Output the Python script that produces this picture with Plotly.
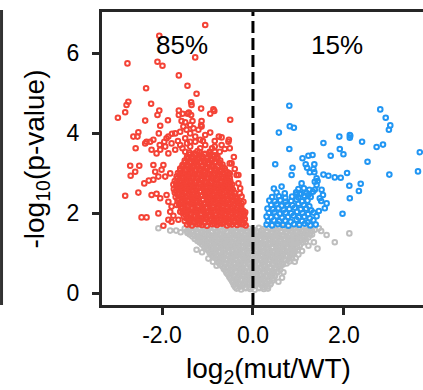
import plotly.graph_objects as go

# ---------------- data ----------------
gray_points = [
    (-1.50,1.61),(-1.39,1.59),(-1.29,1.63),(-1.17,1.60),(-1.06,1.58),(-0.96,1.62),(-0.85,1.60),(-0.74,1.63),(-0.63,1.59),(-0.52,1.61),(-0.41,1.62),(-0.31,1.60),(-0.20,1.58),(-0.09,1.61),(0.03,1.57),(0.13,1.63),(0.24,1.60),(0.35,1.62),(0.46,1.59),(0.57,1.61),(0.67,1.63),(0.79,1.58),(0.90,1.60),(1.01,1.62),(1.12,1.57),(1.24,1.60),(1.36,1.58),
    (-1.45,1.55),(-1.34,1.56),(-1.23,1.54),(-1.12,1.55),(-1.01,1.57),(-0.90,1.54),(-0.79,1.55),(-0.68,1.56),(-0.57,1.54),(-0.46,1.56),(-0.35,1.55),(-0.25,1.54),(-0.14,1.56),(-0.03,1.55),(0.08,1.54),(0.19,1.56),(0.30,1.55),(0.41,1.54),(0.52,1.56),(0.62,1.55),(0.73,1.54),(0.85,1.56),(0.96,1.55),(1.07,1.54),(1.18,1.56),(1.30,1.55),
    (-1.44,1.50),(-1.34,1.52),(-1.23,1.49),(-1.12,1.51),(-1.01,1.48),(-0.90,1.53),(-0.80,1.50),(-0.69,1.47),(-0.58,1.52),(-0.47,1.49),(-0.36,1.51),(-0.25,1.50),(-0.14,1.53),(-0.04,1.48),(0.08,1.51),(0.19,1.49),(0.30,1.52),(0.41,1.50),(0.51,1.47),(0.62,1.51),(0.73,1.49),(0.85,1.53),(0.96,1.50),(1.07,1.48),(1.18,1.52),(1.30,1.46),
    (-1.39,1.46),(-1.28,1.45),(-1.17,1.44),(-1.06,1.46),(-0.95,1.45),(-0.85,1.44),(-0.74,1.46),(-0.63,1.45),(-0.52,1.44),(-0.41,1.46),(-0.30,1.45),(-0.19,1.44),(-0.08,1.46),(0.03,1.45),(0.14,1.44),(0.25,1.46),(0.36,1.45),(0.46,1.44),(0.57,1.46),(0.68,1.45),(0.79,1.44),(0.90,1.46),(1.02,1.45),(1.13,1.44),(1.25,1.46),
    (-1.33,1.41),(-1.22,1.39),(-1.11,1.42),(-1.00,1.38),(-0.90,1.40),(-0.79,1.43),(-0.68,1.39),(-0.57,1.41),(-0.46,1.37),(-0.35,1.42),(-0.24,1.40),(-0.13,1.38),(-0.02,1.41),(0.10,1.39),(0.21,1.43),(0.32,1.40),(0.43,1.38),(0.54,1.41),(0.65,1.42),(0.76,1.39),(0.87,1.40),(0.98,1.37),(1.10,1.41),(1.22,1.39),
    (-1.28,1.35),(-1.17,1.36),(-1.06,1.34),(-0.95,1.35),(-0.85,1.37),(-0.74,1.34),(-0.63,1.35),(-0.52,1.36),(-0.41,1.34),(-0.30,1.36),(-0.19,1.35),(-0.08,1.34),(0.04,1.36),(0.15,1.35),(0.26,1.34),(0.37,1.36),(0.48,1.35),(0.59,1.34),(0.70,1.36),(0.81,1.35),(0.92,1.34),(1.04,1.36),(1.16,1.35),
    (-1.22,1.30),(-1.12,1.32),(-1.01,1.28),(-0.90,1.31),(-0.79,1.29),(-0.68,1.33),(-0.58,1.30),(-0.47,1.27),(-0.36,1.31),(-0.25,1.29),(-0.14,1.32),(-0.04,1.30),(0.07,1.28),(0.16,1.31),(0.27,1.29),(0.38,1.33),(0.49,1.30),(0.60,1.28),(0.71,1.31),(0.82,1.29),(0.93,1.27),(1.04,1.30),(1.16,1.28),
    (-1.17,1.26),(-1.07,1.25),(-0.96,1.24),(-0.85,1.26),(-0.74,1.25),(-0.63,1.24),(-0.53,1.26),(-0.42,1.25),(-0.31,1.24),(-0.20,1.26),(-0.09,1.25),(0.01,1.24),(0.12,1.26),(0.22,1.25),(0.33,1.24),(0.44,1.26),(0.55,1.25),(0.66,1.24),(0.77,1.26),(0.88,1.25),(0.98,1.24),(1.10,1.26),
    (-1.12,1.21),(-1.02,1.19),(-0.91,1.22),(-0.80,1.18),(-0.69,1.20),(-0.59,1.23),(-0.48,1.19),(-0.37,1.21),(-0.26,1.17),(-0.15,1.20),(-0.05,1.22),(0.06,1.19),(0.17,1.21),(0.27,1.18),(0.38,1.22),(0.49,1.20),(0.60,1.17),(0.71,1.21),(0.82,1.19),(0.92,1.22),(1.03,1.18),
    (-1.07,1.15),(-0.97,1.16),(-0.86,1.14),(-0.75,1.15),(-0.64,1.17),(-0.54,1.14),(-0.43,1.15),(-0.32,1.16),(-0.21,1.14),(-0.10,1.16),(0.01,1.15),(0.12,1.14),(0.22,1.16),(0.33,1.15),(0.44,1.14),(0.55,1.16),(0.66,1.15),(0.77,1.14),(0.87,1.16),(0.98,1.15),
    (-1.03,1.10),(-0.92,1.12),(-0.81,1.08),(-0.70,1.11),(-0.60,1.09),(-0.49,1.13),(-0.38,1.10),(-0.27,1.07),(-0.16,1.11),(-0.07,1.12),(0.09,1.08),(0.21,1.11),(0.32,1.09),(0.43,1.13),(0.54,1.10),(0.65,1.08),(0.76,1.11),(0.87,1.09),(0.98,1.07),
    (-0.98,1.06),(-0.87,1.05),(-0.76,1.04),(-0.65,1.06),(-0.55,1.05),(-0.44,1.04),(-0.33,1.06),(-0.22,1.05),(-0.12,1.04),(0.15,1.06),(0.26,1.05),(0.37,1.04),(0.48,1.06),(0.59,1.05),(0.70,1.04),(0.81,1.06),(0.92,1.05),
    (-0.95,1.00),(-0.85,0.98),(-0.74,1.02),(-0.63,0.99),(-0.52,1.01),(-0.42,0.97),(-0.31,1.00),(-0.20,1.02),(-0.10,0.98),(0.12,0.99),(0.22,1.01),(0.33,0.98),(0.44,1.02),(0.55,1.00),(0.66,0.97),(0.77,1.01),(0.88,0.99),
    (-0.90,0.95),(-0.80,0.96),(-0.69,0.94),(-0.58,0.95),(-0.47,0.97),(-0.37,0.94),(-0.26,0.95),(-0.15,0.96),(-0.05,0.94),(0.06,0.93),(0.17,0.95),(0.28,0.96),(0.39,0.94),(0.50,0.95),(0.61,0.97),(0.72,0.94),(0.83,0.95),
    (-0.86,0.90),(-0.76,0.92),(-0.65,0.88),(-0.54,0.91),(-0.44,0.89),(-0.33,0.93),(-0.22,0.90),(-0.12,0.87),(-0.01,0.91),(0.10,0.89),(0.20,0.92),(0.31,0.90),(0.42,0.88),(0.53,0.91),(0.64,0.89),(0.75,0.92),(0.86,0.88),
    (-0.81,0.86),(-0.71,0.85),(-0.60,0.84),(-0.49,0.86),(-0.39,0.85),(-0.28,0.84),(-0.17,0.86),(-0.07,0.85),(0.04,0.84),(0.15,0.86),(0.25,0.85),(0.36,0.84),(0.47,0.86),(0.58,0.85),(0.69,0.84),(0.80,0.86),
    (-0.78,0.80),(-0.68,0.78),(-0.57,0.82),(-0.47,0.79),(-0.36,0.81),(-0.25,0.77),(-0.15,0.80),(-0.04,0.83),(0.06,0.79),(0.16,0.81),(0.27,0.78),(0.38,0.82),(0.48,0.80),(0.59,0.77),(0.70,0.81),(0.80,0.79),
    (-0.75,0.75),(-0.63,0.76),(-0.52,0.74),(-0.42,0.75),(-0.31,0.77),(-0.20,0.74),(-0.10,0.75),(0.01,0.76),(0.11,0.74),(0.21,0.76),(0.32,0.75),(0.43,0.74),(0.53,0.76),(0.64,0.75),(0.74,0.74),
    (-0.72,0.70),(-0.61,0.72),(-0.50,0.68),(-0.40,0.71),(-0.29,0.69),(-0.19,0.73),(-0.08,0.70),(0.02,0.67),(0.12,0.71),(0.23,0.69),(0.34,0.72),(0.44,0.70),(0.55,0.68),(0.66,0.71),
    (-0.67,0.66),(-0.56,0.65),(-0.45,0.64),(-0.35,0.66),(-0.24,0.65),(-0.14,0.64),(-0.03,0.66),(0.07,0.65),(0.17,0.64),(0.28,0.66),(0.39,0.65),(0.49,0.64),(0.60,0.66),
    (-0.64,0.60),(-0.54,0.62),(-0.44,0.58),(-0.33,0.61),(-0.23,0.59),(-0.13,0.63),(-0.03,0.60),(0.08,0.57),(0.18,0.61),(0.28,0.59),(0.39,0.62),(0.49,0.60),(0.60,0.58),
    (-0.60,0.55),(-0.49,0.56),(-0.39,0.54),(-0.28,0.55),(-0.18,0.57),(-0.08,0.54),(0.02,0.55),(0.13,0.56),(0.23,0.54),(0.33,0.56),(0.44,0.55),(0.54,0.54),
    (-0.58,0.50),(-0.48,0.48),(-0.38,0.52),(-0.28,0.49),(-0.18,0.51),(-0.08,0.47),(0.03,0.50),(0.13,0.53),(0.23,0.49),(0.33,0.51),(0.44,0.48),(0.54,0.52),
    (-0.55,0.46),(-0.43,0.45),(-0.33,0.44),(-0.23,0.46),(-0.13,0.45),(-0.03,0.44),(0.08,0.46),(0.18,0.45),(0.28,0.44),(0.38,0.46),(0.49,0.45),
    (-0.52,0.40),(-0.42,0.42),(-0.32,0.38),(-0.22,0.41),(-0.12,0.39),(-0.02,0.43),(0.08,0.40),(0.18,0.37),(0.28,0.41),(0.38,0.39),(0.48,0.42),
    (-0.49,0.35),(-0.37,0.36),(-0.27,0.34),(-0.17,0.35),(-0.07,0.37),(0.03,0.34),(0.13,0.35),(0.23,0.36),(0.33,0.34),(0.43,0.36),
    (-0.46,0.30),(-0.36,0.28),(-0.26,0.32),(-0.16,0.29),(-0.06,0.31),(0.04,0.27),(0.14,0.30),(0.24,0.33),(0.34,0.29),(0.44,0.31),
    (-0.44,0.26),(-0.31,0.25),(-0.21,0.24),(-0.11,0.26),(-0.01,0.25),(0.09,0.24),(0.19,0.26),(0.29,0.25),(0.39,0.24),
    (-0.42,0.20),(-0.32,0.22),(-0.22,0.18),(-0.12,0.21),(-0.02,0.19),(0.08,0.23),(0.18,0.20),(0.28,0.18),(0.38,0.21),
    (-0.39,0.15),(-0.27,0.16),(-0.17,0.14),(-0.07,0.15),(0.03,0.17),(0.13,0.14),(0.23,0.15),(0.33,0.16),
    (-0.36,0.11),(-0.26,0.09),(-0.16,0.12),(-0.06,0.10),(0.04,0.08),(0.14,0.12),(0.24,0.10),(0.33,0.11),
    (-2.08,1.62),(-1.82,1.56),(-1.69,1.56),(-1.59,1.52),(-1.24,1.08),(-1.12,1.02),(-0.98,0.86),(-0.88,0.78),(-0.80,0.68),
    (1.80,1.27),(1.42,1.11),(1.34,1.27),(2.12,1.49),(1.08,1.05),(0.94,0.87),(1.50,1.55),(1.62,1.45),(1.22,1.18),
    (0.92,0.78),(0.67,0.52),(0.64,0.38),(0.56,0.28),(1.45,1.62),(1.00,0.96),
]

red_points = [
    # sparse upper part
    (-1.05,6.70),(-2.06,6.43),(-2.76,5.74),(-2.10,5.78),(-1.99,5.68),(-1.27,5.89),(-1.63,5.44),(-2.35,5.12),(-1.44,5.18),(-1.24,4.98),
    (-2.74,4.78),(-2.78,4.70),(-2.81,4.52),(-2.97,4.38),(-2.24,4.73),(-1.36,4.77),(-1.35,4.70),(-1.14,4.61),(-0.87,4.59),(-0.85,4.55),
    (-0.94,4.48),(-0.50,4.33),(-2.06,4.56),(-2.10,4.45),(-2.37,4.31),(-1.87,4.32),(-2.04,4.18),(-1.63,4.56),(-1.63,4.45),(-1.55,4.48),
    (-1.44,4.48),(-1.36,4.45),(-1.41,4.51),(-2.52,4.02),(-2.54,3.91),(-2.63,3.91),(-2.07,3.99),(-0.94,4.01),(-0.75,3.91),(-0.53,3.83),(-1.78,3.98),
    (-1.57,4.30),(-1.49,4.27),(-1.33,4.30),(-1.13,4.30),(-1.53,4.16),(-1.38,4.20),(-1.46,4.08),(-1.31,4.12),(-1.20,4.08),(-1.13,4.16),
    (-1.60,4.03),(-1.38,3.99),(-1.27,3.91),(-1.49,3.87),(-1.16,3.83),(-1.71,3.99),(-1.86,3.91),(-1.05,3.95),(-1.38,3.78),(-2.34,3.78),
    (-2.19,3.83),(-1.90,3.87),(-0.69,3.89),(-0.84,3.80),(-1.14,4.20),
    # left sparse part
    (-2.58,3.62),(-2.70,3.18),(-2.50,3.18),(-2.59,3.03),(-2.69,2.93),(-2.81,2.43),(-2.52,2.51),(-2.39,2.74),(-2.29,2.81),(-2.19,2.83),
    (-2.23,2.45),(-2.12,2.48),(-2.45,1.89),(-2.34,1.89),(-2.08,1.99),(-1.97,1.68),(-2.19,3.20),(-1.97,3.20),(-2.15,3.03),(-2.01,3.08),
    (-2.08,2.91),(-1.93,2.91),(-1.82,2.99),(-2.04,2.37),(-1.90,2.45),(-1.86,2.28),(-1.79,2.16),(-1.82,2.03),(-1.86,1.83),(-1.75,1.93),
    (-1.79,1.78),(-1.64,1.83),(-1.60,2.03),(-1.68,2.20),
    # band near the top of the cluster
    (-2.37,3.74),(-2.26,3.78),(-2.23,3.58),(-2.12,3.49),(-2.04,3.58),(-1.93,3.66),(-1.86,3.49),(-1.79,3.74),(-1.71,3.58),(-1.60,3.70),
    (-1.49,3.53),(-1.38,3.66),(-1.27,3.78),(-1.16,3.62),(-1.05,3.70),(-0.95,3.53),(-0.84,3.66),(-0.69,3.70),(-0.54,3.78),(-0.51,3.62),
    (-0.73,3.53),(-1.55,3.62),(-1.22,3.55),(-1.10,3.80),(-0.90,3.62),(-0.62,3.60),(-1.65,3.80),(-1.95,3.78),(-2.05,3.70),(-1.45,3.74),
    # right edge of the cluster
    (-0.47,3.24),(-0.36,2.95),(-0.32,2.74),(-0.29,2.49),(-0.25,2.24),(-0.21,2.03),(-0.51,3.24),(-0.51,2.99),(-0.32,2.95),(-0.25,2.41),
    (-0.21,2.28),(-0.25,1.99),(-0.40,3.10),(-0.28,2.62),(-0.18,1.85),(-0.42,3.40),
    # dense core
    (-1.45,1.71),(-1.34,1.69),(-1.23,1.72),(-1.12,1.70),(-1.01,1.68),(-0.90,1.72),(-0.79,1.70),(-0.68,1.73),(-0.57,1.69),(-0.46,1.71),(-0.35,1.70),(-0.24,1.72),(-0.16,1.69),
    (-1.40,1.75),(-1.29,1.76),(-1.18,1.74),(-1.07,1.75),(-0.96,1.77),(-0.85,1.74),(-0.74,1.75),(-0.63,1.76),(-0.52,1.74),(-0.41,1.76),(-0.30,1.75),(-0.20,1.74),
    (-1.50,1.80),(-1.39,1.82),(-1.28,1.79),(-1.17,1.81),(-1.06,1.78),(-0.95,1.83),(-0.84,1.80),(-0.73,1.77),(-0.62,1.82),(-0.51,1.79),(-0.40,1.81),(-0.29,1.80),(-0.19,1.83),
    (-1.46,1.86),(-1.35,1.85),(-1.24,1.84),(-1.13,1.86),(-1.02,1.85),(-0.91,1.84),(-0.80,1.86),(-0.69,1.85),(-0.58,1.84),(-0.47,1.86),(-0.36,1.85),(-0.25,1.84),
    (-1.52,1.91),(-1.41,1.89),(-1.30,1.92),(-1.19,1.88),(-1.08,1.90),(-0.97,1.93),(-0.86,1.89),(-0.75,1.91),(-0.64,1.87),(-0.53,1.92),(-0.42,1.90),(-0.31,1.88),(-0.21,1.91),
    (-1.48,1.95),(-1.37,1.96),(-1.26,1.94),(-1.15,1.95),(-1.04,1.97),(-0.93,1.94),(-0.82,1.95),(-0.71,1.96),(-0.60,1.94),(-0.49,1.96),(-0.38,1.95),(-0.27,1.94),(-0.19,1.96),
    (-1.55,2.00),(-1.46,2.02),(-1.35,1.98),(-1.24,2.01),(-1.13,1.99),(-1.02,2.03),(-0.91,2.00),(-0.80,1.97),(-0.69,2.01),(-0.58,1.99),(-0.47,2.02),(-0.36,2.00),(-0.25,1.98),(-0.17,2.02),
    (-1.52,2.06),(-1.41,2.05),(-1.30,2.04),(-1.19,2.06),(-1.08,2.05),(-0.97,2.04),(-0.86,2.06),(-0.75,2.05),(-0.64,2.04),(-0.53,2.06),(-0.42,2.05),(-0.31,2.04),(-0.22,2.06),
    (-1.58,2.11),(-1.47,2.09),(-1.36,2.12),(-1.25,2.08),(-1.14,2.10),(-1.03,2.13),(-0.92,2.09),(-0.81,2.11),(-0.70,2.07),(-0.59,2.12),(-0.48,2.10),(-0.37,2.08),(-0.27,2.11),
    (-1.55,2.15),(-1.44,2.16),(-1.33,2.14),(-1.22,2.15),(-1.11,2.17),(-1.00,2.14),(-0.89,2.15),(-0.78,2.16),(-0.67,2.14),(-0.56,2.16),(-0.45,2.15),(-0.34,2.14),(-0.26,2.16),
    (-1.62,2.20),(-1.52,2.22),(-1.41,2.18),(-1.30,2.21),(-1.19,2.19),(-1.08,2.23),(-0.97,2.20),(-0.86,2.17),(-0.75,2.21),(-0.64,2.19),(-0.53,2.22),(-0.42,2.20),(-0.31,2.18),
    (-1.60,2.26),(-1.49,2.25),(-1.38,2.24),(-1.27,2.26),(-1.16,2.25),(-1.05,2.24),(-0.94,2.26),(-0.83,2.25),(-0.72,2.24),(-0.61,2.26),(-0.50,2.25),(-0.39,2.24),(-0.31,2.26),
    (-1.66,2.31),(-1.55,2.29),(-1.44,2.32),(-1.33,2.28),(-1.22,2.30),(-1.11,2.33),(-1.00,2.29),(-0.89,2.31),(-0.78,2.27),(-0.67,2.32),(-0.56,2.30),(-0.45,2.28),(-0.35,2.31),
    (-1.64,2.35),(-1.53,2.36),(-1.42,2.34),(-1.31,2.35),(-1.20,2.37),(-1.09,2.34),(-0.98,2.35),(-0.87,2.36),(-0.76,2.34),(-0.65,2.36),(-0.54,2.35),(-0.43,2.34),(-0.35,2.36),
    (-1.70,2.40),(-1.58,2.42),(-1.47,2.38),(-1.36,2.41),(-1.25,2.39),(-1.14,2.43),(-1.03,2.40),(-0.92,2.37),(-0.81,2.41),(-0.70,2.39),(-0.59,2.42),(-0.48,2.40),(-0.38,2.38),
    (-1.66,2.46),(-1.55,2.45),(-1.44,2.44),(-1.33,2.46),(-1.22,2.45),(-1.11,2.44),(-1.00,2.46),(-0.89,2.45),(-0.78,2.44),(-0.67,2.46),(-0.56,2.45),(-0.45,2.44),
    (-1.72,2.51),(-1.61,2.49),(-1.50,2.52),(-1.39,2.48),(-1.28,2.50),(-1.17,2.53),(-1.06,2.49),(-0.95,2.51),(-0.84,2.47),(-0.73,2.52),(-0.62,2.50),(-0.51,2.48),(-0.41,2.51),
    (-1.69,2.55),(-1.58,2.56),(-1.47,2.54),(-1.36,2.55),(-1.25,2.57),(-1.14,2.54),(-1.03,2.55),(-0.92,2.56),(-0.81,2.54),(-0.70,2.56),(-0.59,2.55),(-0.48,2.54),
    (-1.74,2.60),(-1.64,2.62),(-1.53,2.58),(-1.42,2.61),(-1.31,2.59),(-1.20,2.63),(-1.09,2.60),(-0.98,2.57),(-0.87,2.61),(-0.76,2.59),(-0.65,2.62),(-0.54,2.60),(-0.44,2.58),
    (-1.69,2.66),(-1.58,2.65),(-1.47,2.64),(-1.36,2.66),(-1.25,2.65),(-1.14,2.64),(-1.03,2.66),(-0.92,2.65),(-0.81,2.64),(-0.70,2.66),(-0.59,2.65),(-0.49,2.64),
    (-1.75,2.71),(-1.63,2.69),(-1.52,2.72),(-1.41,2.68),(-1.30,2.70),(-1.19,2.73),(-1.08,2.69),(-0.97,2.71),(-0.86,2.67),(-0.75,2.72),(-0.64,2.70),(-0.53,2.68),(-0.46,2.71),
    (-1.69,2.75),(-1.58,2.76),(-1.47,2.74),(-1.36,2.75),(-1.25,2.77),(-1.14,2.74),(-1.03,2.75),(-0.92,2.76),(-0.81,2.74),(-0.70,2.76),(-0.59,2.75),(-0.50,2.74),
    (-1.72,2.80),(-1.60,2.82),(-1.49,2.78),(-1.38,2.81),(-1.27,2.79),(-1.16,2.83),(-1.05,2.80),(-0.94,2.77),(-0.83,2.81),(-0.72,2.79),(-0.61,2.82),(-0.50,2.80),
    (-1.66,2.86),(-1.55,2.85),(-1.44,2.84),(-1.33,2.86),(-1.22,2.85),(-1.11,2.84),(-1.00,2.86),(-0.89,2.85),(-0.78,2.84),(-0.67,2.86),(-0.56,2.85),
    (-1.68,2.91),(-1.57,2.89),(-1.46,2.92),(-1.35,2.88),(-1.24,2.90),(-1.13,2.93),(-1.02,2.89),(-0.91,2.91),(-0.80,2.87),(-0.69,2.92),(-0.58,2.90),(-0.51,2.88),
    (-1.62,2.95),(-1.51,2.96),(-1.40,2.94),(-1.29,2.95),(-1.18,2.97),(-1.07,2.94),(-0.96,2.95),(-0.85,2.96),(-0.74,2.94),(-0.63,2.96),(-0.54,2.95),
    (-1.65,3.00),(-1.54,3.02),(-1.43,2.98),(-1.32,3.01),(-1.21,2.99),(-1.10,3.03),(-0.99,3.00),(-0.88,2.97),(-0.77,3.01),(-0.66,2.99),(-0.56,3.02),
    (-1.60,3.06),(-1.49,3.05),(-1.38,3.04),(-1.27,3.06),(-1.16,3.05),(-1.05,3.04),(-0.94,3.06),(-0.83,3.05),(-0.72,3.04),(-0.61,3.06),
    (-1.60,3.11),(-1.49,3.09),(-1.38,3.12),(-1.27,3.08),(-1.16,3.10),(-1.05,3.13),(-0.94,3.09),(-0.83,3.11),(-0.72,3.07),(-0.62,3.12),
    (-1.55,3.15),(-1.44,3.16),(-1.33,3.14),(-1.22,3.15),(-1.11,3.17),(-1.00,3.14),(-0.89,3.15),(-0.78,3.16),(-0.67,3.14),
    (-1.55,3.20),(-1.44,3.22),(-1.33,3.18),(-1.22,3.21),(-1.11,3.19),(-1.00,3.23),(-0.89,3.20),(-0.78,3.17),(-0.67,3.21),
    (-1.50,3.26),(-1.39,3.25),(-1.28,3.24),(-1.17,3.26),(-1.06,3.25),(-0.95,3.24),(-0.84,3.26),(-0.73,3.25),
    (-1.50,3.31),(-1.38,3.29),(-1.27,3.32),(-1.16,3.28),(-1.05,3.30),(-0.94,3.33),(-0.83,3.29),(-0.72,3.31),
    (-1.44,3.35),(-1.33,3.36),(-1.22,3.34),(-1.11,3.35),(-1.00,3.37),(-0.89,3.34),(-0.78,3.35),
    (-1.45,3.40),(-1.33,3.42),(-1.22,3.38),(-1.11,3.41),(-1.00,3.39),(-0.89,3.43),(-0.78,3.40),
    (-1.39,3.46),(-1.28,3.45),(-1.17,3.44),(-1.06,3.46),(-0.95,3.45),(-0.84,3.44),
    (-1.40,3.51),(-1.28,3.49),(-1.17,3.52),(-1.06,3.48),(-0.95,3.50),(-0.84,3.53),
]

blue_points = [
    (0.30,1.71),(0.42,1.69),(0.55,1.72),(0.66,1.70),(0.78,1.68),(0.90,1.72),(1.02,1.70),(1.14,1.73),(1.26,1.69),(1.38,1.71),
    (0.33,1.80),(0.46,1.82),(0.58,1.79),(0.71,1.81),(0.83,1.78),(0.96,1.83),(1.08,1.80),(1.20,1.77),(1.33,1.82),
    (0.30,1.91),(0.40,1.89),(0.52,1.92),(0.64,1.88),(0.77,1.90),(0.89,1.93),(1.01,1.89),(1.13,1.91),(1.25,1.87),(1.40,1.92),
    (0.35,2.00),(0.47,2.02),(0.59,1.98),(0.72,2.01),(0.84,1.99),(0.97,2.03),(1.09,2.00),(1.21,1.97),(1.33,2.01),
    (0.32,2.11),(0.44,2.09),(0.56,2.12),(0.68,2.08),(0.80,2.10),(0.92,2.13),(1.05,2.09),(1.17,2.11),(1.28,2.07),(1.45,2.05),(1.58,2.12),
    (0.40,2.20),(0.52,2.22),(0.63,2.18),(0.75,2.21),(0.87,2.19),(1.00,2.23),(1.12,2.20),(1.24,2.17),
    (0.36,2.31),(0.48,2.29),(0.60,2.32),(0.72,2.28),(0.84,2.30),(0.96,2.33),(1.08,2.29),(1.20,2.31),(1.50,2.30),
    (0.42,2.40),(0.57,2.42),(0.71,2.38),(0.86,2.41),(1.00,2.39),(1.13,2.43),(1.27,2.40),
    (0.52,2.51),(0.70,2.49),(0.95,2.52),(1.06,2.48),(1.18,2.50),(1.32,2.53),
    (0.46,2.61),(0.63,2.66),(1.00,2.60),(1.12,2.62),(1.24,2.58),
    (1.42,2.80),(1.40,2.70),(1.36,2.58),(1.51,2.58),(1.54,2.45),(1.62,2.24),(1.47,2.37),(0.96,2.47),(1.03,2.47),(1.22,2.45),
    (1.07,2.74),(1.36,2.78),(1.40,2.87),
    (0.80,4.68),(0.57,4.01),(0.81,4.17),(0.90,4.13),(0.80,3.60),(0.49,3.22),(1.09,3.37),(1.22,3.43),(1.31,3.45),(1.16,3.22),
    (1.19,3.13),(1.35,3.22),(1.25,3.02),(1.35,3.02),(1.33,3.10),(0.87,3.13),(0.85,2.95),(1.55,3.75),(1.71,3.43),(1.90,3.91),
    (2.13,3.95),(2.13,3.88),(2.14,3.93),(1.91,3.60),(1.99,3.47),(2.40,3.78),(2.52,3.28),(2.72,3.65),(2.86,3.71),(2.80,4.59),
    (2.92,4.38),(3.02,4.19),(2.99,4.08),(3.67,3.52),(3.63,3.04),(3.00,2.96),(1.55,2.96),(1.66,2.93),(1.80,2.89),(1.93,2.88),
    (2.07,3.00),(2.12,2.68),(2.37,2.73),(2.33,2.55),(2.13,2.37),(1.97,1.98),
]

x_tick_vals = [-2, 0, 2]
x_tick_text = ["-2.0", "0.0", "2.0"]
y_tick_vals = [0, 2, 4, 6]
y_tick_text = ["0", "2", "4", "6"]
pct_labels = ["85%", "15%"]

# ---------------- figure ----------------
FONT = "Arial, Liberation Sans, Helvetica, sans-serif"
AX = "#262626"

fig = go.Figure()
for pts, col in [(gray_points, "#BEBEBE"), (red_points, "#F44336"), (blue_points, "#2196F3")]:
    fig.add_trace(go.Scatter(
        x=[p[0] for p in pts], y=[p[1] for p in pts], mode="markers",
        marker=dict(symbol="circle-open", size=4.6, color=col, line=dict(width=2.0, color=col)),
        showlegend=False, hoverinfo="skip"))

fig.add_shape(type="line", xref="x", yref="paper", x0=0, x1=0, y0=0, y1=1,
              line=dict(color="black", width=3, dash="12px,5px"))
fig.add_shape(type="line", xref="paper", yref="paper", x0=-0.313, x1=-0.313, y0=0, y1=1.007,
              line=dict(color="#333333", width=3))

fig.add_annotation(x=-1.55, y=6.2, xref="x", yref="y", text=pct_labels[0], showarrow=False,
                   font=dict(size=26, color="black", family=FONT))
fig.add_annotation(x=1.85, y=6.2, xref="x", yref="y", text=pct_labels[1], showarrow=False,
                   font=dict(size=26, color="black", family=FONT))
fig.add_annotation(x=0.52, y=-0.222, xref="paper", yref="paper", text="log<sub>2</sub>(mut/WT)",
                   showarrow=False, xanchor="center", yanchor="middle",
                   font=dict(size=28, color="black", family=FONT))
fig.add_annotation(x=-0.2025, y=0.5, xref="paper", yref="paper", text="-log<sub>10</sub>(p-value)",
                   showarrow=False, textangle=-90, xanchor="center", yanchor="middle",
                   font=dict(size=28, color="black", family=FONT))

axis_common = dict(showgrid=False, zeroline=False, showline=True, linewidth=3, linecolor=AX,
                   ticks="outside", ticklen=7, tickwidth=2.5, tickcolor=AX,
                   tickfont=dict(size=23, color="black", family=FONT))
fig.update_xaxes(range=[-3.32, 3.74], mirror=True, tickvals=x_tick_vals, ticktext=x_tick_text, **axis_common)
fig.update_yaxes(range=[-0.3, 7.025], mirror=False, tickvals=y_tick_vals, ticktext=y_tick_text,
                 ticklabelstandoff=8, **axis_common)

fig.update_layout(width=423, height=390, margin=dict(l=102, r=0, t=12, b=85, pad=0),
                  plot_bgcolor="white", paper_bgcolor="white", font=dict(family=FONT))

fig.write_html("out.html", config={"displayModeBar": False},
               post_script="document.body.style.margin='0';")
